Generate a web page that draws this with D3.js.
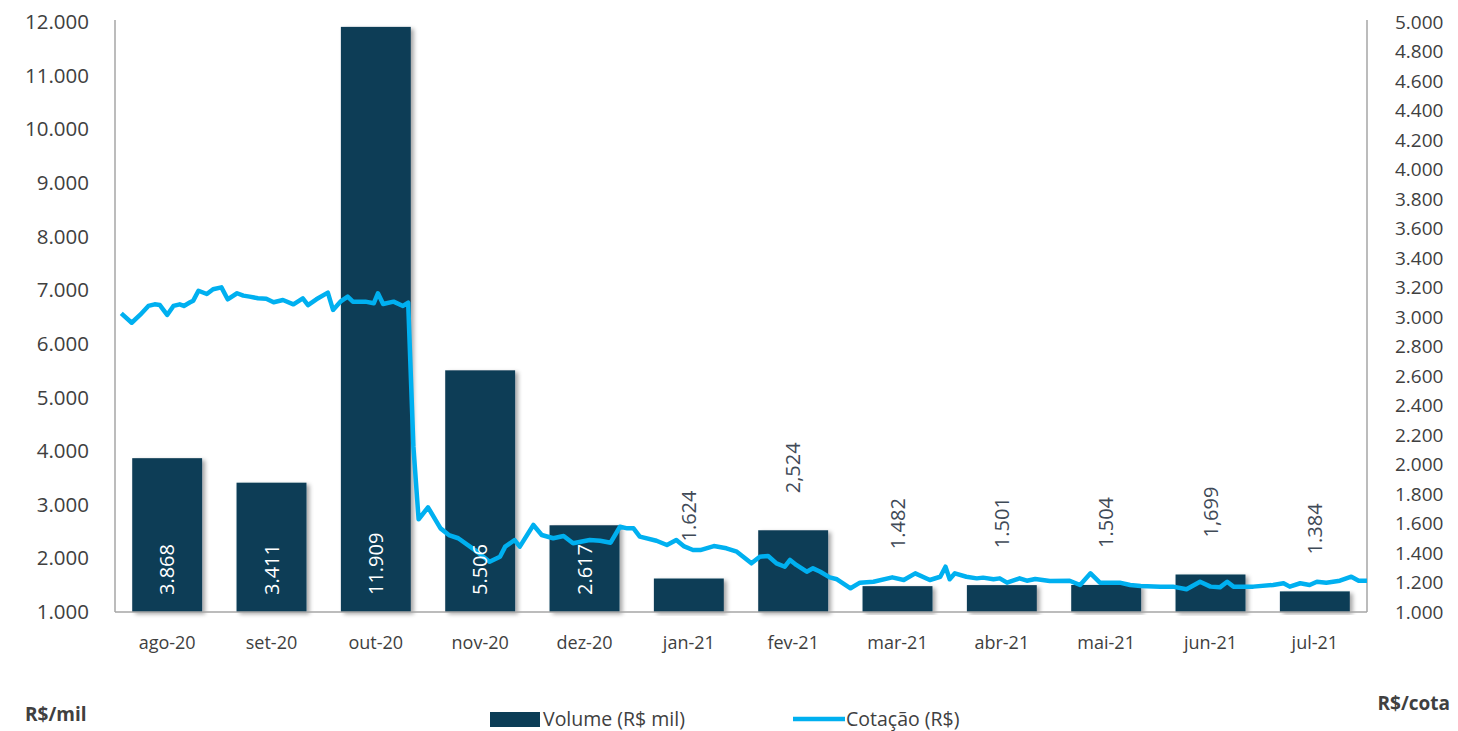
<!DOCTYPE html>
<html>
<head>
<meta charset="utf-8">
<script src="https://cdn.jsdelivr.net/npm/d3@7"></script>
<style>
	body { margin: 0; background: #fff; }
	text { font-family: "Open Sans", "DejaVu Sans", sans-serif; }
</style>
</head>
<body>
<div id="chart"></div>
<script>
// dados
var meses = ["ago-20", "set-20", "out-20", "nov-20", "dez-20", "jan-21", "fev-21", "mar-21", "abr-21", "mai-21", "jun-21", "jul-21"]
var volume = [3868, 3411, 11909, 5506, 2617, 1624, 2524, 1482, 1501, 1504, 1699, 1384]
var rotulos = ["3.868", "3.411", "11.909", "5.506", "2.617", "1.624", "2,524", "1.482", "1.501", "1.504", "1,699", "1.384"]
var ticksEsq = [1000, 2000, 3000, 4000, 5000, 6000, 7000, 8000, 9000, 10000, 11000, 12000]
var ticksDir = [1.0, 1.2, 1.4, 1.6, 1.8, 2.0, 2.2, 2.4, 2.6, 2.8, 3.0, 3.2, 3.4, 3.6, 3.8, 4.0, 4.2, 4.4, 4.6, 4.8, 5.0]
// cotação: [posição em meses desde ago-20, valor R$]
var cotacao = [
	[0.06, 3.025], [0.16, 2.961], [0.24, 3.014], [0.32, 3.075], [0.38, 3.086], [0.43, 3.081], [0.50, 3.014],
	[0.56, 3.075], [0.62, 3.086], [0.66, 3.075], [0.72, 3.100], [0.75, 3.111], [0.80, 3.178], [0.88, 3.156],
	[0.94, 3.188], [1.02, 3.201], [1.08, 3.120], [1.17, 3.161], [1.23, 3.145], [1.29, 3.138], [1.37, 3.127],
	[1.45, 3.124], [1.52, 3.100], [1.61, 3.115], [1.71, 3.086], [1.80, 3.127], [1.85, 3.081], [1.93, 3.120],
	[2.04, 3.165], [2.09, 3.048], [2.16, 3.104], [2.23, 3.138], [2.28, 3.104], [2.40, 3.104], [2.48, 3.093],
	[2.52, 3.161], [2.57, 3.088], [2.67, 3.104], [2.76, 3.075], [2.81, 3.097], [2.86, 2.121], [2.91, 1.628],
	[3.00, 1.710], [3.12, 1.567], [3.20, 1.522], [3.29, 1.500], [3.47, 1.409], [3.59, 1.341], [3.69, 1.375],
	[3.74, 1.443], [3.83, 1.488], [3.88, 1.443], [4.01, 1.590], [4.09, 1.522], [4.20, 1.500], [4.30, 1.515],
	[4.39, 1.466], [4.55, 1.488], [4.65, 1.483], [4.75, 1.470], [4.84, 1.578], [4.91, 1.567], [4.97, 1.567],
	[5.03, 1.511], [5.19, 1.483], [5.29, 1.454], [5.38, 1.488], [5.45, 1.447], [5.54, 1.420], [5.61, 1.420],
	[5.74, 1.447], [5.86, 1.432], [5.96, 1.409], [6.10, 1.330], [6.18, 1.375], [6.26, 1.380], [6.34, 1.330],
	[6.42, 1.307], [6.47, 1.353], [6.53, 1.319], [6.63, 1.273], [6.69, 1.296], [6.76, 1.273], [6.85, 1.235],
	[6.92, 1.222], [7.05, 1.161], [7.14, 1.199], [7.27, 1.205], [7.45, 1.235], [7.56, 1.217], [7.67, 1.262],
	[7.81, 1.217], [7.91, 1.239], [7.96, 1.307], [8.00, 1.222], [8.05, 1.262], [8.16, 1.239], [8.26, 1.228],
	[8.32, 1.233], [8.42, 1.222], [8.48, 1.228], [8.55, 1.199], [8.67, 1.228], [8.74, 1.212], [8.82, 1.224],
	[8.96, 1.210], [9.15, 1.212], [9.25, 1.183], [9.35, 1.262], [9.44, 1.199], [9.63, 1.199], [9.73, 1.183],
	[9.83, 1.176], [10.02, 1.172], [10.14, 1.172], [10.27, 1.154], [10.40, 1.205], [10.50, 1.172], [10.59, 1.167],
	[10.66, 1.205], [10.72, 1.172], [10.91, 1.172], [11.10, 1.183], [11.20, 1.195], [11.26, 1.172], [11.36, 1.195],
	[11.45, 1.183], [11.52, 1.205], [11.61, 1.199], [11.74, 1.212], [11.85, 1.239], [11.92, 1.212], [12.0, 1.212]
]

var corBarra = "#0b3d56"
var corLinha = "#00b0f0"
var corTexto = "#404040"

var W = 1458, H = 731
var mEsq = 115, mDir = 1367, mTopo = 22, mBase = 612

var svg = d3.select("#chart").append("svg")
	.attr("width", W)
	.attr("height", H)

var defs = svg.append("defs")
var sombra = defs.append("filter")
	.attr("id", "sombra")
	.attr("x", "-20%").attr("y", "-5%")
	.attr("width", "150%").attr("height", "115%")
sombra.append("feDropShadow")
	.attr("dx", 3)
	.attr("dy", 2)
	.attr("stdDeviation", 2)
	.attr("flood-color", "#000")
	.attr("flood-opacity", 0.35)

var x = d3.scaleBand()
	.domain(meses)
	.range([mEsq, mDir])
	.paddingInner(0.33)
	.paddingOuter(0.165)

var xLinha = d3.scaleLinear().domain([0, 12]).range([mEsq, mDir])
var yEsq = d3.scaleLinear().domain([1000, 12000]).range([mBase, mTopo])
var yDir = d3.scaleLinear().domain([1, 5]).range([mBase, mTopo])

var fmt = function (d) {
	return d3.format(",.0f")(d).replace(/,/g, ".")
}

// barras
svg.append("g").selectAll("rect")
	.data(volume)
	.enter().append("rect")
	.attr("x", function (d, i) { return x(meses[i]) })
	.attr("y", function (d) { return yEsq(d) })
	.attr("width", x.bandwidth())
	.attr("height", function (d) { return yEsq(1000) - yEsq(d) })
	.attr("fill", corBarra)
	.attr("filter", "url(#sombra)")

// eixos
var eixoEsq = d3.axisLeft(yEsq).tickValues(ticksEsq).tickFormat(fmt).tickSize(0).tickPadding(26)
var gEsq = svg.append("g")
	.attr("transform", "translate(" + mEsq + ",0)")
	.call(eixoEsq)
gEsq.select(".domain").attr("stroke", "#a6a6a6").attr("stroke-width", 1.5).attr("d", "M0," + (mTopo - 2) + "V" + mBase)
gEsq.selectAll("text").attr("fill", corTexto).style("font-size", "20.5px").style("font-family", "'Open Sans', sans-serif")

var eixoDir = d3.axisRight(yDir).tickValues(ticksDir).tickFormat(function (d) {
	return d3.format(".3f")(d)
}).tickSize(0).tickPadding(28)
var gDir = svg.append("g")
	.attr("transform", "translate(" + mDir + ",0)")
	.call(eixoDir)
gDir.select(".domain").attr("stroke", "#a6a6a6").attr("stroke-width", 1.5).attr("d", "M0," + (mTopo - 2) + "V" + mBase)
gDir.selectAll("text").attr("fill", corTexto).style("font-size", "19px").style("font-family", "'Open Sans', sans-serif")

var eixoX = d3.axisBottom(x).tickSize(0).tickPadding(24)
var gX = svg.append("g")
	.attr("transform", "translate(0," + mBase + ")")
	.call(eixoX)
gX.select(".domain").attr("stroke", "#a6a6a6").attr("stroke-width", 1.5).attr("d", "M" + mEsq + ",0H" + mDir)
gX.selectAll("text").attr("fill", corTexto).style("font-size", "18px").style("font-family", "'Open Sans', sans-serif")

// linha de cotação
var linha = d3.line()
	.x(function (d) { return xLinha(d[0]) })
	.y(function (d) { return yDir(d[1]) })
svg.append("path")
	.datum(cotacao)
	.attr("d", linha)
	.attr("fill", "none")
	.attr("stroke", corLinha)
	.attr("stroke-width", 4.5)
	.attr("stroke-linejoin", "round")

// rótulos das barras
svg.append("g").selectAll("text")
	.data(volume)
	.enter().append("text")
	.attr("transform", function (d, i) {
		var cx = x(meses[i]) + x.bandwidth() / 2 + 7
		var cy = i < 5 ? mBase - 17 : yEsq(d) - 37
		return "translate(" + cx + "," + cy + ") rotate(-90)"
	})
	.attr("text-anchor", "start")
	.attr("fill", function (d, i) { return i < 5 ? "#fff" : "#3f4a57" })
	.style("font-size", "20px")
	.text(function (d, i) { return rotulos[i] })

// legenda
var leg = svg.append("g")
leg.append("rect")
	.attr("x", 490).attr("y", 712)
	.attr("width", 50).attr("height", 15)
	.attr("fill", corBarra)
leg.append("text")
	.attr("x", 543).attr("y", 726)
	.attr("fill", corTexto)
	.style("font-size", "19.5px")
	.text("Volume (R$ mil)")
leg.append("line")
	.attr("x1", 793).attr("x2", 845)
	.attr("y1", 719).attr("y2", 719)
	.attr("stroke", corLinha)
	.attr("stroke-width", 4.5)
leg.append("text")
	.attr("x", 846).attr("y", 726)
	.attr("fill", corTexto)
	.style("font-size", "19.5px")
	.text("Cotação (R$)")

svg.append("text")
	.attr("x", 25).attr("y", 721)
	.attr("fill", corTexto)
	.style("font-size", "19px")
	.style("font-weight", "bold")
	.text("R$/mil")
svg.append("text")
	.attr("x", 1450).attr("y", 710)
	.attr("text-anchor", "end")
	.attr("fill", corTexto)
	.style("font-size", "19px")
	.style("font-weight", "bold")
	.text("R$/cota")
</script>
</body>
</html>
